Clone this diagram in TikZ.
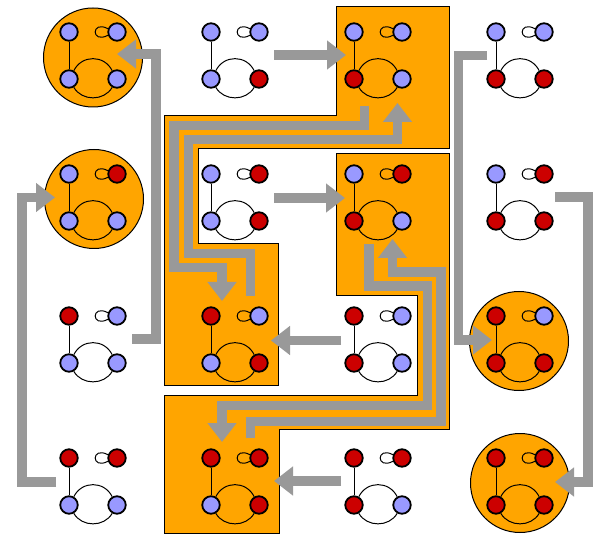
\documentclass[tikz,border=0pt]{standalone}
\usetikzlibrary{arrows.meta}

\definecolor{nodeblue}{RGB}{153,153,255}
\definecolor{nodered}{RGB}{204,0,0}
\definecolor{hilite}{RGB}{255,165,0}
\definecolor{flow}{RGB}{153,153,153}

\tikzset{
  vtx/.style={circle, draw=black, line width=1.8pt, minimum size=17.5pt, inner sep=0pt},
  bv/.style={vtx, fill=nodeblue},
  rv/.style={vtx, fill=nodered},
  gedge/.style={line width=1pt, black},
  region/.style={fill=hilite, draw=black, line width=1pt},
  ring/.style={region, circle, minimum size=99pt, inner sep=0pt},
  flowarrow/.style={draw=flow, line width=9.5pt, line join=miter,
    -{Triangle[width=28pt,length=19pt]}}
}

% one small four-vertex graph: name, x and y of the top-left vertex, four vertex styles
\newcommand{\smallgraph}[7]{%
  \node[#4] (#1tl) at (#2,#3) {};
  \node[#5] (#1tr) at (#2+48,#3) {};
  \node[#6] (#1bl) at (#2,#3+47) {};
  \node[#7] (#1br) at (#2+48,#3+47) {};
  \draw[gedge] (#1tl) -- (#1bl);
  \draw[gedge] (#1bl.60) .. controls +(8,-16) and +(-8,-16) .. (#1br.120);
  \draw[gedge] (#1bl.-60) .. controls +(8,14) and +(-8,14) .. (#1br.-120);
  \draw[gedge] (#1tr.160) .. controls +(-17,-9) and +(-17,9) .. (#1tr.200);
}

\begin{document}
\begin{tikzpicture}[x=1pt, y=-1pt]
\useasboundingbox (0,0) rectangle (602,534);
\fill[white] (0,0) rectangle (602,534);

% highlighted states
\node[ring] (c11) at (93,57.5) {};
\node[ring] (c21) at (94,199) {};
\node[ring] (c34) at (519,341) {};
\node[ring] (c44) at (520,483) {};

\draw[region] (336,7) -- (449.5,7) -- (449.5,149) -- (198,149) -- (198,244)
  -- (278.5,244) -- (278.5,385.5) -- (164.5,385.5) -- (164.5,116) -- (336,116) -- cycle;
\draw[region] (336,153.5) -- (449.5,153.5) -- (449.5,429) -- (279,429) -- (279,533)
  -- (164.5,533) -- (164.5,395.5) -- (417,395.5) -- (417,296) -- (336,296) -- cycle;

% arrow end points
\coordinate (a1s) at (274,55);      \coordinate (a1e) at (346,55);
\coordinate (a2s) at (274,198);     \coordinate (a2e) at (345,198);
\coordinate (a3s) at (341,340.5);   \coordinate (a3e) at (271,340.5);
\coordinate (a4s) at (341,481);     \coordinate (a4e) at (274,481);
\coordinate (a5s) at (132,339);     \coordinate (a5e) at (117,54);
\coordinate (a6s) at (56,482);      \coordinate (a6e) at (55,197.5);
\coordinate (a7s) at (487,55.5);    \coordinate (a7e) at (492,340);
\coordinate (a8s) at (555,197);     \coordinate (a8e) at (555,482);
\coordinate (b1s) at (364.5,106);   \coordinate (b1e) at (222,301);
\coordinate (b2s) at (250.5,296);   \coordinate (b2e) at (397.5,103);
\coordinate (b3s) at (369,244);     \coordinate (b3e) at (222,442);
\coordinate (b4s) at (250.5,438);   \coordinate (b4e) at (392.5,239);

% transitions
\draw[flowarrow] (a1s) -- (a1e);
\draw[flowarrow] (a2s) -- (a2e);
\draw[flowarrow] (a3s) -- (a3e);
\draw[flowarrow] (a4s) -- (a4e);
\draw[flowarrow] (a5s) -- (156,339) -- (156,54) -- (a5e);
\draw[flowarrow] (a6s) -- (22,482) -- (22,197.5) -- (a6e);
\draw[flowarrow] (a7s) -- (458.5,55.5) -- (458.5,340) -- (a7e);
\draw[flowarrow] (a8s) -- (588,197) -- (588,482) -- (a8e);
\draw[flowarrow] (b1s) -- (364.5,125.5) -- (174,125.5) -- (174,267.5) -- (222,267.5) -- (b1e);
\draw[flowarrow] (b2s) -- (250.5,253.5) -- (188.5,253.5) -- (188.5,139.5) -- (397.5,139.5) -- (b2e);
\draw[flowarrow] (b3s) -- (369,286) -- (427.5,286) -- (427.5,405.5) -- (222,405.5) -- (b3e);
\draw[flowarrow] (b4s) -- (250.5,421.5) -- (441,421.5) -- (441,272) -- (392.5,272) -- (b4e);

% the sixteen graphs
\smallgraph{g11}{69}{32}{bv}{bv}{bv}{bv}
\smallgraph{g12}{211}{32}{bv}{bv}{bv}{rv}
\smallgraph{g13}{354}{32}{bv}{bv}{rv}{bv}
\smallgraph{g14}{496}{32}{bv}{bv}{rv}{rv}
\smallgraph{g21}{69}{174}{bv}{rv}{bv}{bv}
\smallgraph{g22}{211}{174}{bv}{rv}{bv}{rv}
\smallgraph{g23}{354}{174}{bv}{rv}{rv}{bv}
\smallgraph{g24}{496}{174}{bv}{rv}{rv}{rv}
\smallgraph{g31}{69}{316}{rv}{bv}{bv}{bv}
\smallgraph{g32}{211}{316}{rv}{bv}{bv}{rv}
\smallgraph{g33}{354}{316}{rv}{bv}{rv}{bv}
\smallgraph{g34}{496}{316}{rv}{bv}{rv}{rv}
\smallgraph{g41}{69}{458}{rv}{rv}{bv}{bv}
\smallgraph{g42}{211}{458}{rv}{rv}{bv}{rv}
\smallgraph{g43}{354}{458}{rv}{rv}{rv}{bv}
\smallgraph{g44}{496}{458}{rv}{rv}{rv}{rv}
\end{tikzpicture}
\end{document}
